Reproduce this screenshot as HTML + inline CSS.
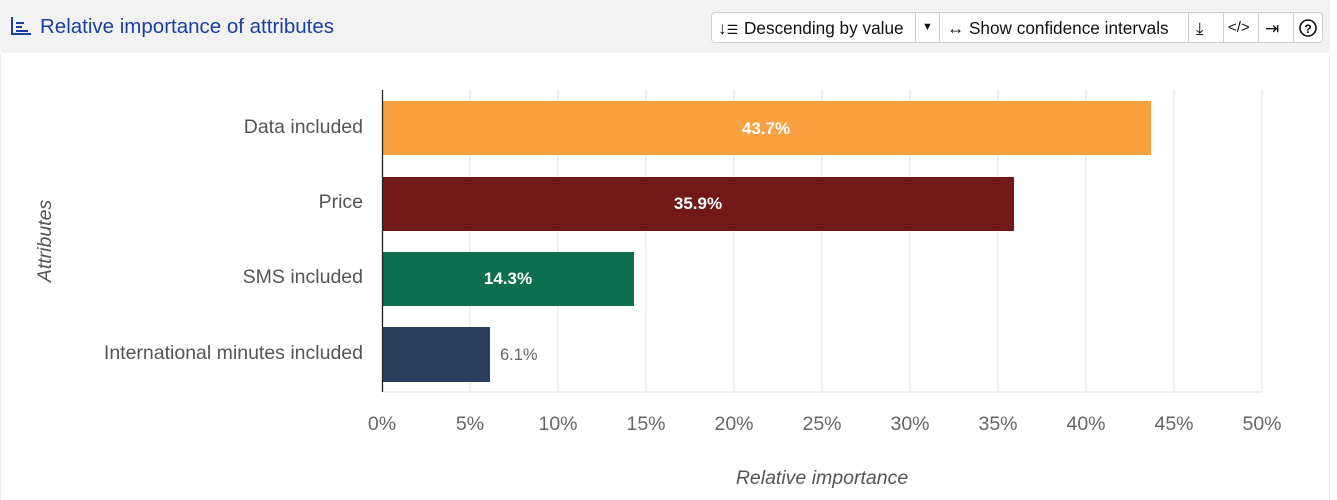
<!DOCTYPE html>
<html><head><style>
body{margin:0;width:1337px;height:500px;background:#fff;font-family:"Liberation Sans",sans-serif;position:relative;overflow:hidden}
.hdr{position:absolute;left:0;top:0;width:1330px;height:53px;background:#f2f2f2;border-radius:0 0 4px 4px}
.title{position:absolute;left:40px;top:15px;font-size:20.5px;color:#1a3f9e}
.tb{position:absolute;left:711px;top:12px;width:612px;height:31px;background:#fff;border:1px solid #d0d0d0;border-radius:4px;box-sizing:border-box}
.tb span{position:absolute;top:5px;font-size:17.2px;color:#111}
.dv{position:absolute;top:0;width:1px;height:29px;background:#d0d0d0}
.frame{position:absolute;left:0;top:53px;width:1330px;height:447px;border-left:1px solid #eee;border-right:1px solid #eee;box-sizing:border-box}
</style></head><body>
<div class="frame"></div>
<div class="hdr">
<svg style="position:absolute;left:10px;top:16px" width="22" height="20"><path d="M2 1V18H21" stroke="#1a3f9e" stroke-width="2" fill="none"/><path d="M6 7H14M6 11H12M6 15H18" stroke="#1a3f9e" stroke-width="2"/></svg>
<div class="title">Relative importance of attributes</div>
<div class="tb">
<span style="left:6px">↓<span style="position:static;font-size:13px">☰</span></span>
<span style="left:32px">Descending by value</span>
<div class="dv" style="left:203px"></div>
<span style="left:210px;font-size:11px;top:8px">▼</span>
<div class="dv" style="left:227px"></div>
<span style="left:235px">↔ Show confidence intervals</span>
<div class="dv" style="left:476px"></div>
<span style="left:484px">⤓</span>
<div class="dv" style="left:511px"></div>
<span style="left:516px;font-size:15px;top:6px">&lt;/&gt;</span>
<div class="dv" style="left:546px"></div>
<span style="left:553px">⇥</span>
<div class="dv" style="left:581px"></div>
<svg style="position:absolute;left:587px;top:6px" width="18" height="18"><circle cx="9" cy="9" r="8" stroke="#111" stroke-width="1.6" fill="none"/><text x="9" y="14" font-size="12" text-anchor="middle" font-weight="bold" font-family="Liberation Sans">?</text></svg>
</div>
</div>
<svg style="position:absolute;left:0;top:0" width="1337" height="500" font-family="Liberation Sans, sans-serif">
<g stroke="#e3e3e3" stroke-width="1">
<line x1="470" y1="90" x2="470" y2="392"/><line x1="558" y1="90" x2="558" y2="392"/><line x1="646" y1="90" x2="646" y2="392"/><line x1="734" y1="90" x2="734" y2="392"/><line x1="822" y1="90" x2="822" y2="392"/><line x1="910" y1="90" x2="910" y2="392"/><line x1="998" y1="90" x2="998" y2="392"/><line x1="1086" y1="90" x2="1086" y2="392"/><line x1="1174" y1="90" x2="1174" y2="392"/><line x1="1262" y1="90" x2="1262" y2="392"/>
<line x1="382" y1="392" x2="1262" y2="392"/>
</g>
<rect x="382" y="101" width="769" height="54" fill="#f9a040"/>
<rect x="382" y="177" width="632" height="54" fill="#721818"/>
<rect x="382" y="252" width="252" height="54" fill="#0e6e50"/>
<rect x="382" y="327" width="108" height="55" fill="#2a3f5e"/>
<line x1="382.5" y1="90" x2="382.5" y2="392" stroke="#222" stroke-width="1.3"/>
<g font-size="17" font-weight="bold" fill="#fff" text-anchor="middle">
<text x="766" y="134">43.7%</text><text x="698" y="209">35.9%</text><text x="508" y="284">14.3%</text></g>
<text x="500" y="360" font-size="16.5" fill="#666">6.1%</text>
<g font-size="19.5" fill="#555" text-anchor="end">
<text x="363" y="133">Data included</text><text x="363" y="208">Price</text><text x="363" y="283">SMS included</text><text x="363" y="359">International minutes included</text></g>
<g font-size="19.5" fill="#666" text-anchor="middle">
<text x="382" y="430">0%</text><text x="470" y="430">5%</text><text x="558" y="430">10%</text><text x="646" y="430">15%</text><text x="734" y="430">20%</text><text x="822" y="430">25%</text><text x="910" y="430">30%</text><text x="998" y="430">35%</text><text x="1086" y="430">40%</text><text x="1174" y="430">45%</text><text x="1262" y="430">50%</text></g>
<text x="822" y="484" font-size="19.5" font-style="italic" fill="#555" text-anchor="middle">Relative importance</text>
<text transform="translate(51,241) rotate(-90)" font-size="19.5" font-style="italic" fill="#555" text-anchor="middle">Attributes</text>
</svg>
</body></html>
